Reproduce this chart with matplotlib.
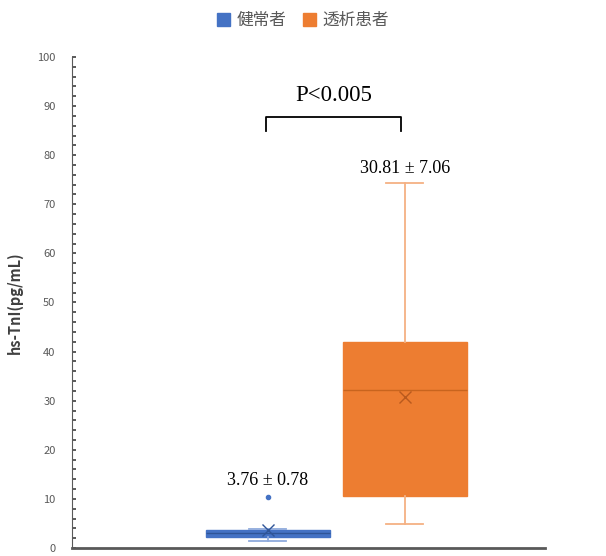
import matplotlib.pyplot as plt
from matplotlib.patches import Patch

plt.rcParams['font.family'] = ['Noto Sans CJK JP', 'DejaVu Sans']

# box statistics for the two groups (pg/mL)
groups = ['健常者', '透析患者']
colors = ['#4472C4', '#ED7D31']
whisker_colors = ['#8FAADC', '#F4B183']
q1 = [2.3, 10.6]
q3 = [3.6, 42.0]
medians = [3.0, 32.2]
means = [3.76, 30.81]
sds = [0.78, 7.06]
whislo = [1.4, 4.9]
whishi = [3.9, 74.3]
outliers = [[10.3], []]
positions = [0.414, 0.704]

serif = ['Liberation Serif', 'DejaVu Serif']

fig = plt.figure(figsize=(6.06, 5.56), dpi=100)
ax = fig.add_axes([0.119, 0.0144, 0.780, 0.8831])

for i in range(2):
    stats = [dict(med=medians[i], q1=q1[i], q3=q3[i], whislo=whislo[i],
                  whishi=whishi[i], mean=means[i], fliers=outliers[i])]
    ax.bxp(stats, positions=[positions[i]], widths=0.262, patch_artist=True,
           showmeans=True, capwidths=0.078,
           boxprops=dict(facecolor=colors[i], edgecolor=colors[i], linewidth=1),
           medianprops=dict(color='#C8641E' if i else '#2F5597', linewidth=1),
           whiskerprops=dict(color=whisker_colors[i], linewidth=1.3),
           capprops=dict(color=whisker_colors[i], linewidth=1.3),
           meanprops=dict(marker='x', markeredgecolor='#B85A1E' if i else '#2F5597',
                          markersize=8, markeredgewidth=1),
           flierprops=dict(marker='o', markerfacecolor=colors[i],
                           markeredgecolor=colors[i], markersize=3))
    top = whishi[i] + 1.2 if i else outliers[i][0] + 1.8
    ax.text(positions[i], top, f'{means[i]:.2f} ± {sds[i]:.2f}', ha='center',
            va='bottom', fontsize=13, family=serif)

# significance bracket
y0, y1 = 87.8, 85.0
ax.plot([0.41, 0.41, 0.695, 0.695], [y1, y0, y0, y1], color='black', lw=1.3)
ax.text(0.5525, 90.0, 'P<0.005', ha='center', va='bottom', fontsize=16.5,
        family=serif)

ax.set_xlim(0, 1)
ax.set_ylim(0, 100)
ax.set_yticks(range(0, 101, 10))
ax.set_yticks(range(0, 101, 2), minor=True)
ax.tick_params(axis='y', which='both', direction='in', length=3, width=1.2,
               colors='#404040', labelsize=8, labelcolor='#595959', pad=12)
ax.set_xticks([])
for s in ['top', 'right']:
    ax.spines[s].set_visible(False)
ax.spines['left'].set_color('#595959')
ax.spines['bottom'].set_color('#595959')
ax.spines['bottom'].set_linewidth(2)
ax.set_ylabel('hs-TnI(pg/mL)', fontsize=10.5, color='#404040', fontweight='bold',
              labelpad=10)

handles = [Patch(facecolor=c, edgecolor=c) for c in colors]
fig.legend(handles, groups, loc='upper center', bbox_to_anchor=(0.5, 1.005),
           ncol=2, frameon=False, fontsize=12, labelcolor='#595959',
           handlelength=0.75, handleheight=0.75, handletextpad=0.4,
           columnspacing=1.0)

fig.savefig('out.png', dpi=100)
